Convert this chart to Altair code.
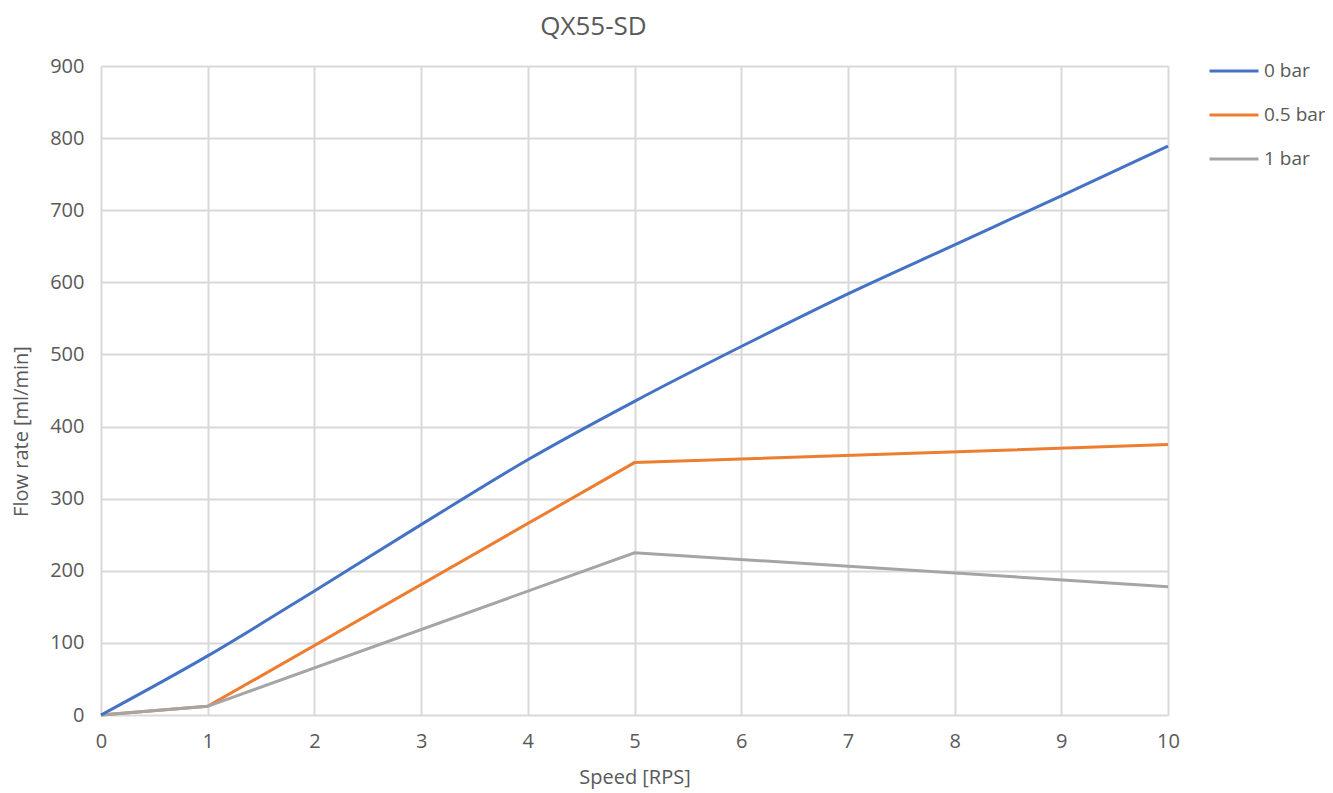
import altair as alt
import pandas as pd

# Data
speed_0bar = [0, 1, 2, 3, 4, 5, 6, 7, 8, 9, 10]
flow_0bar = [0, 82, 172, 264, 354, 435, 511, 584, 652, 720, 789]

speed_05bar = [0, 1, 5, 10]
flow_05bar = [0, 12, 350, 375]

speed_1bar = [0, 1, 5, 10]
flow_1bar = [0, 12, 225, 178]

x_ticks = [0, 1, 2, 3, 4, 5, 6, 7, 8, 9, 10]
y_ticks = [0, 100, 200, 300, 400, 500, 600, 700, 800, 900]

series_names = ["0 bar", "0.5 bar", "1 bar"]
series_colors = ["#4472C4", "#ED7D31", "#A5A5A5"]

rows = []
for xv, yv in zip(speed_0bar, flow_0bar):
    rows.append({"speed": xv, "flow": yv, "series": "0 bar"})
for xv, yv in zip(speed_05bar, flow_05bar):
    rows.append({"speed": xv, "flow": yv, "series": "0.5 bar"})
for xv, yv in zip(speed_1bar, flow_1bar):
    rows.append({"speed": xv, "flow": yv, "series": "1 bar"})
df = pd.DataFrame(rows)

FONT = "Open Sans"
TXT = "#595959"
GRID = "#d9d9d9"

color = alt.Color(
    "series:N",
    scale=alt.Scale(domain=series_names, range=series_colors),
    sort=series_names,
    legend=alt.Legend(
        title=None,
        orient="none",
        legendX=1107,
        legendY=-21,
        symbolType="stroke",
        symbolSize=2401,
        symbolStrokeWidth=3,
        labelFontSize=19,
        labelFont=FONT,
        labelColor=TXT,
        labelOffset=4,
        rowPadding=8,
        padding=0,
    ),
)

x = alt.X(
    "speed:Q",
    scale=alt.Scale(domain=[0, 10], nice=False),
    axis=alt.Axis(
        title="Speed [RPS]",
        values=x_ticks,
        ticks=False,
        domain=False,
        labelFlush=False,
        labelOverlap=False,
        labelPadding=16,
        titleY=68,
        titleBaseline="alphabetic",
    ),
)
y = alt.Y(
    "flow:Q",
    scale=alt.Scale(domain=[0, 900], nice=False),
    axis=alt.Axis(
        title="Flow rate [ml/min]",
        values=y_ticks,
        ticks=False,
        domain=False,
        labelPadding=17,
        titleX=-74,
        titleY=365,
        titleAngle=-90,
        titleAlign="center",
        titleBaseline="alphabetic",
    ),
)

base = alt.Chart(df)
blue = base.transform_filter(alt.datum.series == "0 bar").mark_line(
    strokeWidth=3, interpolate="monotone"
).encode(x=x, y=y, color=color)
others = base.transform_filter(alt.datum.series != "0 bar").mark_line(
    strokeWidth=3
).encode(x=x, y=y, color=color)

chart = (
    alt.layer(others, blue)
    .properties(
        width=1067,
        height=649,
        title=alt.TitleParams(
            "QX55-SD",
            fontSize=26,
            font=FONT,
            fontWeight="normal",
            color=TXT,
            anchor="middle",
            dx=-41,
            offset=5,
        ),
        autosize=alt.AutoSizeParams(type="none"),
        padding={"left": 93, "top": 58, "right": 157, "bottom": 78},
    )
    .configure_view(stroke=None)
    .configure_axis(
        grid=True,
        gridColor=GRID,
        gridWidth=2,
        labelFont=FONT,
        labelFontSize=20,
        labelColor=TXT,
        titleFont=FONT,
        titleFontSize=20,
        titleFontWeight="normal",
        titleColor=TXT,
    )
)

chart.save("out.html", embed_options={"renderer": "svg", "actions": False})
